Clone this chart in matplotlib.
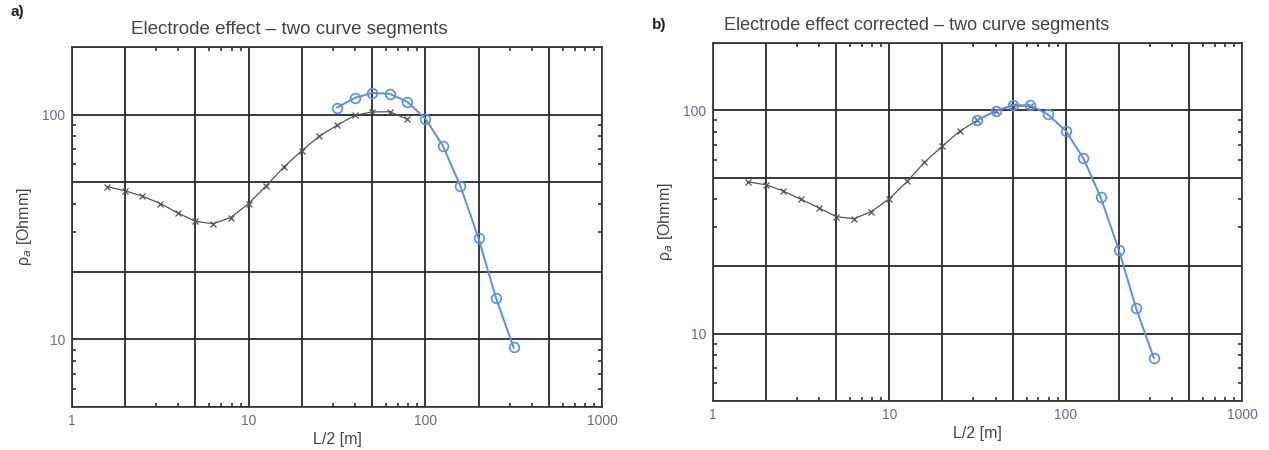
import numpy as np
import matplotlib.pyplot as plt
from matplotlib import font_manager
from matplotlib.ticker import FixedLocator, NullFormatter

# font: narrow sans if available
names = set(f.name for f in font_manager.fontManager.ttflist)
fam = 'Liberation Sans Narrow' if 'Liberation Sans Narrow' in names else 'Liberation Sans'
plt.rcParams['font.family'] = [fam, 'DejaVu Sans']

# half electrode spacing L/2 [m]
x_meas_a = [1.58, 2.0, 2.5, 3.16, 3.98, 5.0, 6.3, 7.9, 10, 12.6, 15.8, 20, 25, 31.6, 40, 50, 63, 79]
rho_meas_a = [47.8, 45.8, 43.4, 40.2, 36.5, 33.5, 32.7, 34.8, 40.2, 48.3, 58.4, 69.2, 80, 89.6, 99.3, 102.8, 103, 95.3]
x_seg2 = [31.6, 40, 50, 63, 79, 100, 126, 158, 200, 251, 316]
rho_seg2_a = [107.5, 118.7, 125, 123.7, 114, 96, 72.4, 48, 28.2, 15.3, 9.2]

x_meas_b = [1.58, 2.0, 2.5, 3.16, 3.98, 5.0, 6.3, 7.9, 10, 12.6, 15.8, 20, 25, 31.6, 40, 50, 63]
rho_meas_b = [47.8, 46.4, 43.5, 39.9, 36.6, 33.4, 32.7, 35.2, 40.2, 48, 58.4, 69.2, 80.5, 90.2, 99.3, 104.5, 104.5]
rho_seg2_b = [90.2, 99.3, 105.3, 105.3, 96, 80.9, 61, 40.7, 23.8, 13.0, 7.8]

titles = ['Electrode effect \u2013 two curve segments',
          'Electrode effect corrected \u2013 two curve segments']
panel_tags = ['a)', 'b)']
title_x = [0.41, 0.385]

grid_x = [1, 2, 5, 10, 20, 50, 100, 200, 500, 1000]
grid_y = [5, 10, 20, 50, 100, 200]
lab_col = '#6a6a9c'
txt_col = '#444444'
blue = '#5b8fe8'

fig = plt.figure(figsize=(12.69, 4.5), dpi=100)
ax_a = fig.add_axes([0.0567, 0.0956, 0.4177, 0.800])
ax_b = fig.add_axes([0.5619, 0.1089, 0.4168, 0.7956])

data = [(ax_a, x_meas_a, rho_meas_a, rho_seg2_a),
        (ax_b, x_meas_b, rho_meas_b, rho_seg2_b)]

for i, (ax, xm, rm, rs) in enumerate(data):
    ax.set_xscale('log')
    ax.set_yscale('log')
    ax.set_xlim(1, 1000)
    ax.set_ylim(5, 200)

    ax.plot(xm, rm, color='#555555', lw=0.9, marker='x', ms=4.5, mew=0.9, zorder=3)
    ax.plot(x_seg2, rs, color=blue, lw=1.4, marker='o', ms=7, mfc='none',
            mec=blue, mew=1.2, zorder=4)

    ax.xaxis.set_major_locator(FixedLocator(grid_x))
    ax.yaxis.set_major_locator(FixedLocator(grid_y))
    ax.xaxis.set_minor_locator(FixedLocator([3, 4, 6, 7, 8, 9, 30, 40, 60, 70, 80, 90,
                                             300, 400, 600, 700, 800, 900]))
    ax.yaxis.set_minor_locator(FixedLocator([6, 7, 8, 9, 30, 40, 60, 70, 80, 90]))
    ax.xaxis.set_minor_formatter(NullFormatter())
    ax.yaxis.set_minor_formatter(NullFormatter())
    ax.set_xticklabels(['1', '', '', '10', '', '', '100', '', '', '1000'])
    ax.set_yticklabels(['', '10', '', '', '100', ''])
    ax.tick_params(which='both', direction='in', top=True, right=True,
                   labelsize=10, labelcolor=lab_col, color='#333333')
    ax.tick_params(which='major', length=0, pad=5)
    ax.tick_params(which='minor', length=3, width=1.2)

    ax.grid(True, which='major', color='#2a2a2a', lw=1.3)
    for s in ax.spines.values():
        s.set_color('#333333')
        s.set_linewidth(1.2)

    ax.set_title(titles[i], fontsize=13.5 if i == 0 else 13, color=txt_col,
                 pad=9, x=title_x[i])
    ax.set_xlabel('L/2 [m]', fontsize=11.5, color=txt_col, labelpad=3)
    ax.set_ylabel('\u03c1$_a$ [Ohmm]', fontsize=11.5, color=txt_col, labelpad=6)

fig.text(0.008, 0.965, panel_tags[0], fontsize=11, fontweight='bold', color='#222222')
fig.text(0.514, 0.935, panel_tags[1], fontsize=11, fontweight='bold', color='#222222')

fig.savefig('out.png', dpi=100, facecolor='white')
